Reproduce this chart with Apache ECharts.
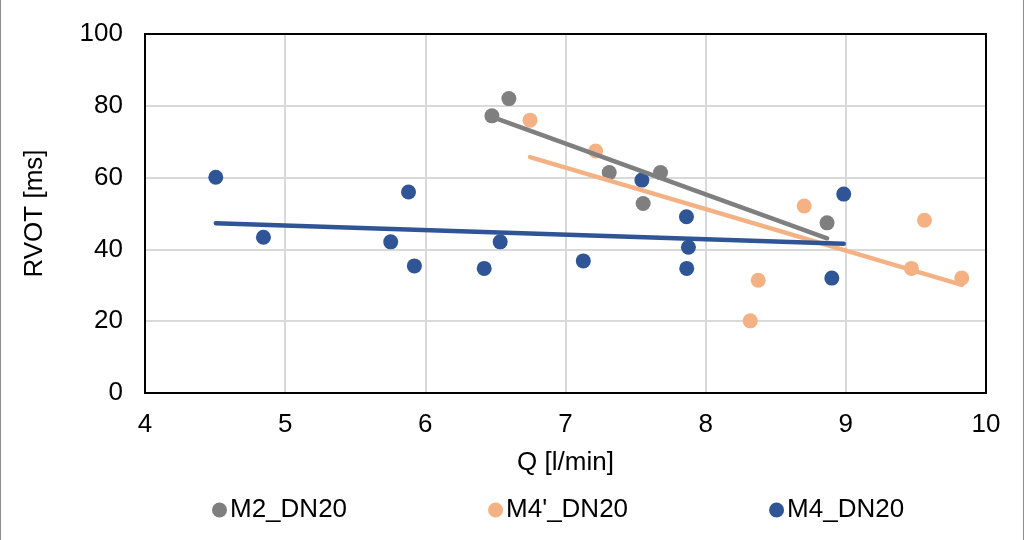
<!DOCTYPE html>
<html>
<head>
<meta charset="utf-8">
<script src="https://cdn.jsdelivr.net/npm/echarts@6/dist/echarts.min.js"></script>
<style>
  html, body { margin: 0; padding: 0; background: #fff; }
  #chart { width: 1024px; height: 540px; box-sizing: border-box; border-left: 1px solid #8c8c8c; border-right: 1px solid #8c8c8c; }
</style>
</head>
<body>
<div id="chart"></div>
<script>
// ---- data ----
const seriesNames = ["M2_DN20", "M4'_DN20", "M4_DN20"];

const m2Q     = [6.475, 6.596, 7.312, 7.554, 7.678, 8.866];
const m2RVOT  = [77.2, 82.0, 61.4, 52.8, 61.4, 47.4];

const m4pQ    = [6.747, 7.215, 8.318, 8.375, 8.703, 9.468, 9.561, 9.827];
const m4pRVOT = [76.0, 67.4, 20.1, 31.4, 52.1, 34.7, 48.1, 32.0];

const m4Q     = [4.505, 4.845, 5.753, 5.880, 5.922, 6.420, 6.534, 7.127, 7.545, 7.863, 7.865, 7.877, 8.900, 8.985];
const m4RVOT  = [60.1, 43.4, 42.1, 56.0, 35.4, 34.7, 42.1, 36.8, 59.3, 49.1, 34.7, 40.6, 32.0, 55.4];

// linear trendline end points (x, y)
const trendM2Q  = [6.475, 8.866], trendM2RVOT  = [76.9, 43.1];
const trendM4pQ = [6.747, 9.827], trendM4pRVOT = [65.7, 30.1];
const trendM4Q  = [4.505, 8.985], trendM4RVOT  = [47.3, 41.6];

const xTicks = [4, 5, 6, 7, 8, 9, 10];
const yTicks = [0, 20, 40, 60, 80, 100];

// ---- build ----
const colors = ['#7f7f7f', '#f4b183', '#2f5597'];
const zip = (a, b) => a.map((v, i) => [v, b[i]]);
const font = 'Liberation Sans, Arial, sans-serif';
const FS = 26;

const chart = echarts.init(document.getElementById('chart'));

function scatter(name, xs, ys, color) {
  return {
    name: name, type: 'scatter', data: zip(xs, ys),
    symbol: 'circle', symbolSize: 15,
    itemStyle: { color: color, opacity: 1 },
    z: 3, emphasis: { disabled: true }
  };
}
function trend(xs, ys, color, z) {
  return {
    type: 'line', data: zip(xs, ys), showSymbol: false, symbol: 'none',
    lineStyle: { color: color, width: 4.5, cap: 'round' },
    z: z, silent: true, legendHoverLink: false, animation: false
  };
}
const border = { show: true, onZero: false, lineStyle: { color: '#000', width: 2 } };
const gridLine = { show: true, showMinLine: false, showMaxLine: false, lineStyle: { color: '#d9d9d9', width: 2 } };

chart.setOption({
  animation: false,
  textStyle: { fontFamily: font, color: '#000' },
  grid: { left: 144, right: 37, top: 34, bottom: 147, show: true, borderColor: '#000', borderWidth: 2, backgroundColor: 'rgba(0,0,0,0)' },
  legend: {
    data: seriesNames.map(n => ({ name: n, icon: 'circle' })),
    bottom: 12, left: 206,
    itemWidth: 15, itemHeight: 15, itemGap: 141,
    textStyle: { fontSize: FS, fontFamily: font, color: '#000', padding: [0, 0, 0, -2] }
  },
  xAxis: [{
    type: 'value', min: xTicks[0], max: xTicks[xTicks.length - 1], interval: 1,
    name: 'Q [l/min]', nameLocation: 'middle', nameGap: 57,
    nameTextStyle: { fontSize: FS, color: '#000', fontFamily: font },
    axisLine: border, axisTick: { show: false },
    axisLabel: { fontSize: FS, color: '#000', margin: 19, fontFamily: font },
    splitLine: gridLine
  }, {
    type: 'value', position: 'top', min: xTicks[0], max: xTicks[xTicks.length - 1], interval: 1,
    axisLine: border, axisTick: { show: false }, axisLabel: { show: false }, splitLine: { show: false }
  }],
  yAxis: [{
    type: 'value', min: yTicks[0], max: yTicks[yTicks.length - 1], interval: 20,
    name: 'RVOT [ms]', nameLocation: 'middle', nameGap: 97, nameRotate: 90,
    nameTextStyle: { fontSize: FS, color: '#000', fontFamily: font },
    axisLine: border, axisTick: { show: false },
    axisLabel: { fontSize: FS, color: '#000', margin: 22, fontFamily: font },
    splitLine: gridLine
  }, {
    type: 'value', position: 'right', min: yTicks[0], max: yTicks[yTicks.length - 1], interval: 20,
    axisLine: border, axisTick: { show: false }, axisLabel: { show: false }, splitLine: { show: false }
  }],
  series: [
    scatter(seriesNames[0], m2Q, m2RVOT, colors[0]),
    scatter(seriesNames[1], m4pQ, m4pRVOT, colors[1]),
    scatter(seriesNames[2], m4Q, m4RVOT, colors[2]),
    trend(trendM2Q, trendM2RVOT, colors[0], 4),
    trend(trendM4pQ, trendM4pRVOT, colors[1], 4),
    trend(trendM4Q, trendM4RVOT, colors[2], 4)
  ]
});
</script>
</body>
</html>
